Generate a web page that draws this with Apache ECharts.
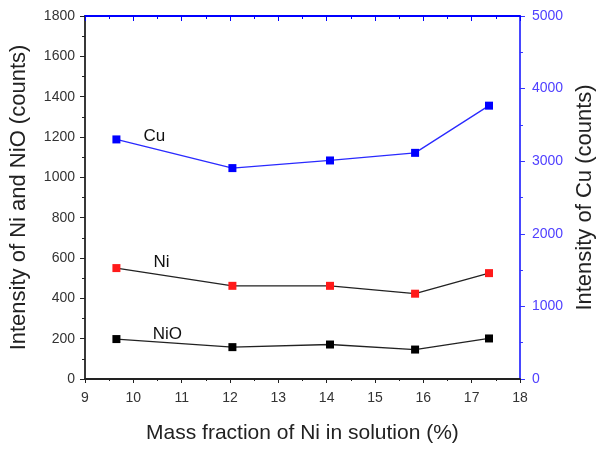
<!DOCTYPE html>
<html>
<head>
<meta charset="utf-8">
<script src="https://cdn.jsdelivr.net/npm/echarts@6/dist/echarts.min.js"></script>
<style>
    html, body { margin: 0; padding: 0; background: #fff; }
    #chart { width: 604px; height: 449px; }
</style>
</head>
<body>
<div id="chart"></div>
<script>
    // 横坐标：溶液中 Ni 的质量分数 (%)
    const massFraction = [9.65, 12.05, 14.07, 15.83, 17.36];
    // 右轴：Cu 强度
    const cuCounts = [3300, 2905, 3010, 3115, 3765];
    // 左轴：Ni 与 NiO 强度
    const niCounts = [550, 462, 462, 423, 525];
    const nioCounts = [198, 158, 171, 146, 201];

    const FONT = 'Liberation Sans';
    const BLUE = '#0000ff';

    const toPairs = (ys) => massFraction.map((x, i) => [x, ys[i]]);

    // 在第一个点上标注系列名称
    const withTag = (ys, name, offset) => {
        const data = toPairs(ys);
        data[0] = {
            value: data[0],
            label: {
                show: true,
                formatter: name,
                position: 'inside',
                offset: offset,
                fontFamily: FONT,
                fontSize: 17,
                color: '#111',
            },
        };
        return data;
    };

    const plain = (v) => String(v); // 不要千位分隔符

    const myChart = echarts.init(document.getElementById('chart'));

    myChart.setOption({
        animation: false,
        grid: {
            left: 85,
            right: 81,
            top: 16,
            bottom: 64,
        },
        xAxis: [
            {
                type: 'value',
                min: 9,
                max: 18,
                interval: 1,
                position: 'bottom',
                name: 'Mass fraction of Ni in solution (%)',
                nameLocation: 'middle',
                nameGap: 44,
                nameTextStyle: { fontFamily: FONT, fontSize: 21, color: '#222' },
                axisLine: { onZero: false, lineStyle: { color: '#222', width: 1.8 } },
                axisTick: { length: 4, lineStyle: { color: '#222' } },
                minorTick: { show: true, splitNumber: 2, length: 2, lineStyle: { color: '#222' } },
                axisLabel: { fontFamily: FONT, fontSize: 14, color: '#333', margin: 12, formatter: plain },
                splitLine: { show: false },
            },
            {
                type: 'value',
                min: 9,
                max: 18,
                interval: 1,
                position: 'top',
                axisLine: { onZero: false, lineStyle: { color: BLUE, width: 1.8 } },
                axisTick: { inside: true, length: 5, lineStyle: { color: BLUE } },
                minorTick: { show: true, splitNumber: 2, length: 3, lineStyle: { color: BLUE } },
                axisLabel: { show: false },
                splitLine: { show: false },
            },
        ],
        yAxis: [
            {
                type: 'value',
                min: 0,
                max: 1800,
                interval: 200,
                position: 'left',
                name: 'Intensity of Ni and NiO (counts)',
                nameLocation: 'middle',
                nameGap: 55,
                nameTextStyle: { fontFamily: FONT, fontSize: 22, color: '#222' },
                axisLine: { show: true, onZero: false, lineStyle: { color: '#222', width: 1.8 } },
                axisTick: { length: 5, lineStyle: { color: '#222' } },
                minorTick: { show: true, splitNumber: 2, length: 3, lineStyle: { color: '#222' } },
                axisLabel: { fontFamily: FONT, fontSize: 14, color: '#333', margin: 10, formatter: plain },
                splitLine: { show: false },
            },
            {
                type: 'value',
                min: 0,
                max: 5000,
                interval: 1000,
                position: 'right',
                name: 'Intensity of Cu (counts)',
                nameLocation: 'middle',
                nameGap: 53,
                nameTextStyle: { fontFamily: FONT, fontSize: 22, color: '#222' },
                axisLine: { show: true, onZero: false, lineStyle: { color: '#3333ff', width: 1.8 } },
                axisTick: { length: 5, lineStyle: { color: '#3333ff' } },
                minorTick: { show: true, splitNumber: 2, length: 3, lineStyle: { color: '#3333ff' } },
                axisLabel: { fontFamily: FONT, fontSize: 14, color: '#5040ff', margin: 12, formatter: plain },
                splitLine: { show: false },
            },
        ],
        series: [
            {
                name: 'Cu',
                type: 'line',
                yAxisIndex: 1,
                data: withTag(cuCounts, 'Cu', [38, -3]),
                symbol: 'rect',
                symbolSize: 8,
                lineStyle: { color: '#2a2aff', width: 1.3 },
                itemStyle: { color: BLUE },
            },
            {
                name: 'Ni',
                type: 'line',
                data: withTag(niCounts, 'Ni', [45, -6]),
                symbol: 'rect',
                symbolSize: 8,
                lineStyle: { color: '#222', width: 1.3 },
                itemStyle: { color: '#ff1a1a' },
            },
            {
                name: 'NiO',
                type: 'line',
                data: withTag(nioCounts, 'NiO', [51, -5]),
                symbol: 'rect',
                symbolSize: 8,
                lineStyle: { color: '#222', width: 1.3 },
                itemStyle: { color: '#000' },
            },
        ],
    });
</script>
</body>
</html>
